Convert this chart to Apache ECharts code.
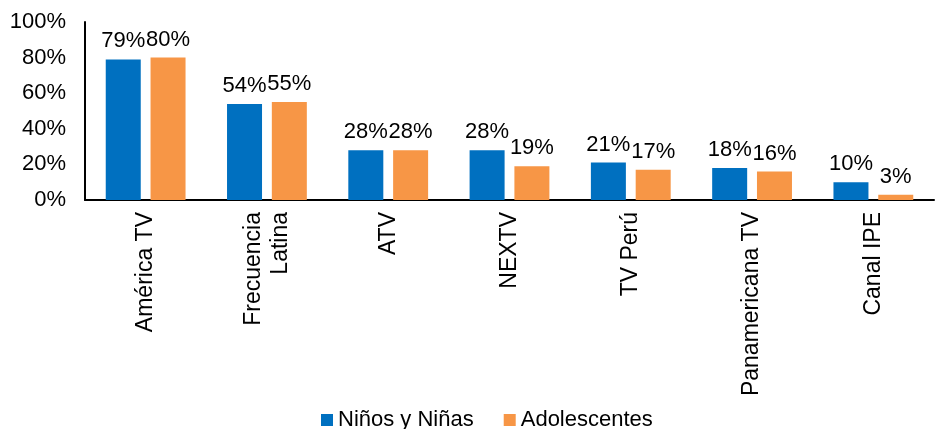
<!DOCTYPE html>
<html>
<head>
<meta charset="utf-8">
<script src="https://cdn.jsdelivr.net/npm/echarts@6/dist/echarts.min.js"></script>
<style>
  html, body { margin: 0; padding: 0; background: #fff; }
  #chart { width: 935px; height: 429px; }
</style>
</head>
<body>
<div id="chart"></div>
<script>
// 频道与数据
const categories = ["América TV", "Frecuencia\nLatina", "ATV", "NEXTV", "TV Perú", "Panamericana TV", "Canal IPE"];
const ninos = [79, 54, 28, 28, 21, 18, 10];
const adolescentes = [80, 55, 28, 19, 17, 16, 3];
const yTicks = [0, 20, 40, 60, 80, 100];

const font = "Liberation Sans, Arial, sans-serif";
const chart = echarts.init(document.getElementById("chart"));

const labelStyle = {
  show: true,
  position: "top",
  distance: 7,
  formatter: "{c}%",
  fontSize: 22,
  fontFamily: font,
  color: "#000"
};

chart.setOption({
  animation: false,
  textStyle: { fontFamily: font },
  grid: { left: 85, right: 1, top: 22, bottom: 229 },
  legend: {
    top: 404,
    left: 316,
    itemWidth: 12,
    itemHeight: 12,
    itemGap: 30,
    icon: "rect",
    textStyle: { fontSize: 22, color: "#000", fontFamily: font },
    data: ["Niños y Niñas", "Adolescentes"]
  },
  xAxis: {
    type: "category",
    data: categories,
    axisLine: { lineStyle: { color: "#000", width: 2 } },
    axisTick: { show: false },
    axisLabel: {
      rotate: 90,
      interval: 0,
      margin: 12,
      fontSize: 23,
      color: "#000",
      fontFamily: font,
      lineHeight: 27
    }
  },
  yAxis: {
    type: "value",
    min: yTicks[0],
    max: yTicks[yTicks.length - 1],
    interval: 20,
    splitLine: { show: false },
    axisLine: { show: true, lineStyle: { color: "#000", width: 2 } },
    axisTick: { show: false },
    axisLabel: {
      formatter: "{value}%",
      fontSize: 22,
      color: "#000",
      margin: 19,
      fontFamily: font
    }
  },
  series: [
    {
      name: "Niños y Niñas",
      type: "bar",
      data: ninos,
      barWidth: 35,
      barGap: "28%",
      itemStyle: { color: "#0070C0" },
      label: labelStyle
    },
    {
      name: "Adolescentes",
      type: "bar",
      data: adolescentes,
      barWidth: 35,
      itemStyle: { color: "#F79646" },
      label: labelStyle
    }
  ]
});
</script>
</body>
</html>
